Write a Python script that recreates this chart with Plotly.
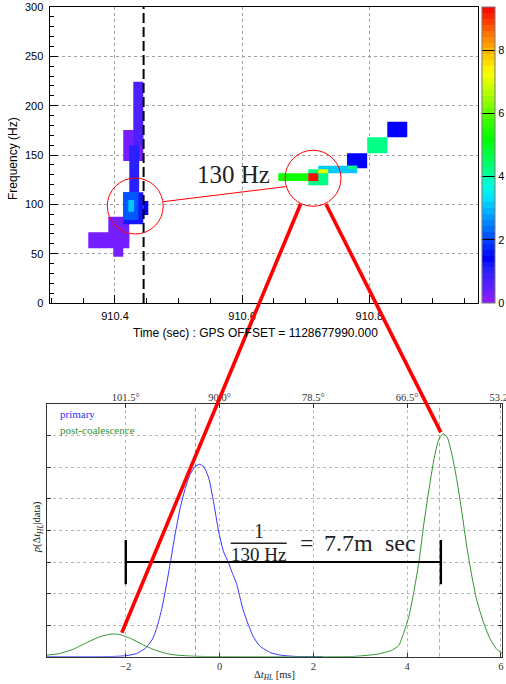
import plotly.graph_objects as go

W, H = 506, 684

# ---------------- top panel: time-frequency tiles ----------------
tile_t_start = [910.3895, 910.3580, 910.3973, 910.4130, 910.4288, 910.4225, 910.4130, 910.4130, 910.4210, 910.4445,
                910.6568, 910.7650, 910.7197, 910.7650, 910.7040, 910.7197, 910.7040, 910.7967, 910.8283]
tile_t_end = [910.4225, 910.4225, 910.4130, 910.4445, 910.4445, 910.4380, 910.4445, 910.4367, 910.4300, 910.4524,
              910.7040, 910.7967, 910.7810, 910.7810, 910.7354, 910.7354, 910.7197, 910.8283, 910.8597]
tile_f_low = [62.1, 55.4, 46.9, 143.9, 160.0, 112.2, 79.8, 84.0, 92.5, 89.2,
              123.6, 136.5, 131.4, 135.8, 119.3, 131.4, 123.6, 151.7, 167.9]
tile_f_high = [87.5, 71.6, 62.1, 175.3, 224.3, 160.0, 112.2, 112.2, 104.4, 103.4,
               131.4, 151.7, 139.2, 139.2, 135.5, 135.5, 131.4, 167.9, 183.7]
tile_energy = [0.19, 0.19, 0.19, 0.19, 0.65, 0.95, 1.15, 2.1, 3.1, 1.4,
               5.3, 1.4, 3.1, 4.25, 4.25, 7.05, 9.3, 4.25, 1.4]

energy_max = 9.36
colorbar_ticks = [0, 2, 4, 6, 8]
event_time = 910.445
time_range = [910.297, 910.9705]
freq_range = [0, 300]

circle_t = [910.4319, 910.7115]
circle_f = [98.3, 126.4]
circle_rt = 0.0440
circle_rf = 28.4
link_t = [910.476, 910.668]
link_f = [102.7, 117.9]

# palette (ROOT-like rainbow)
pal_pos = [0.0, 0.05, 0.12, 0.15, 0.21, 0.28, 0.35, 0.40, 0.43, 0.48, 0.555, 0.62, 0.68, 0.75, 0.78, 0.84, 0.90, 0.96, 1.0]
pal_col = ['#9a1aff', '#6020ff', '#2020ff', '#0000ff', '#0040ff', '#0090ff', '#00e0ff', '#00ffe0', '#00ffa0',
           '#00ff60', '#00ff00', '#40ff00', '#90ff00', '#e0ff00', '#ffff00', '#ffc000', '#ff8000', '#ff3000', '#ff0000']

# ---------------- bottom panel: posteriors ----------------
primary_dt = [-3.68, -2.6, -2.33, -2.0, -1.77, -1.59, -1.44, -1.34, -1.23, -1.12, -1.05, -0.95, -0.84, -0.73,
              -0.63, -0.52, -0.43, -0.34, -0.23, -0.13, -0.02, 0.085, 0.19, 0.26, 0.36, 0.44, 0.5, 0.6, 0.714,
              0.857, 1.086, 1.3, 1.6, 2.2]
primary_p = [0.0, 0.0, 0.005, 0.03, 0.1, 0.26, 0.53, 0.9, 1.53, 2.38, 2.98, 3.86, 4.71, 5.34,
             5.77, 6.03, 6.1, 6.03, 5.66, 4.92, 3.97, 3.33, 2.98, 2.7, 2.33, 1.85, 1.5, 1.07, 0.65,
             0.34, 0.13, 0.05, 0.01, 0.0]
post_dt = [-3.68, -3.41, -3.13, -2.84, -2.56, -2.34, -2.22, -2.12, -1.9, -1.62, -1.41, -1.27, -1.13, -0.91, -0.6,
           -0.27, 0.5, 2.16, 2.87, 3.36, 3.65, 3.82, 3.93, 4.04, 4.14, 4.25, 4.35, 4.46, 4.57, 4.67, 4.76, 4.85,
           4.95, 5.06, 5.17, 5.27, 5.38, 5.48, 5.63, 5.77, 5.91, 6.03]
post_p = [0.05, 0.1, 0.23, 0.44, 0.63, 0.71, 0.72, 0.70, 0.58, 0.37, 0.23, 0.16, 0.1, 0.05, 0.02,
          0.005, 0.0, 0.0, 0.01, 0.08, 0.19, 0.35, 0.77, 1.29, 2.03, 2.98, 4.14, 5.24, 6.24, 6.87, 7.06, 6.98,
          6.45, 5.61, 4.56, 3.51, 2.56, 1.82, 1.08, 0.56, 0.24, 0.1]
primary_mark = -0.514
post_mark = 4.69
bar_dt = [-2.0, 4.72]
bar_p = 3.0
bar_cap = [2.3, 3.70]
dt_ticks = [-2, 0, 2, 4, 6]
dt_ticktext = ['\u22122', '0', '2', '4', '6']
angle_text = ['101.5\u00b0', '90.0\u00b0', '78.5\u00b0', '66.5\u00b0', '53.2\u00b0']
dt_range = [-3.68, 6.03]
p_range = [0, 8]

conn_top_t = [910.692, 910.7318]
conn_top_f = [100.3, 100.3]
conn_bot_dt = [-2.085, 4.72]
conn_bot_p = [0.76, 7.11]

# layout geometry (pixels)
top_x_dom = [49.5 / W, 477.7 / W]
top_y_dom = [1 - 303 / H, 1 - 7 / H]
bot_x_dom = [47.0 / W, 502.3 / W]
bot_y_dom = [1 - 656.7 / H, 1 - 404.3 / H]


def hex2rgb(h):
    h = h.lstrip('#')
    return tuple(int(h[i:i + 2], 16) for i in (0, 2, 4))


def interp(u):
    u = min(max(u, 0.0), 1.0)
    for i in range(len(pal_pos) - 1):
        if pal_pos[i] <= u <= pal_pos[i + 1]:
            a, b = hex2rgb(pal_col[i]), hex2rgb(pal_col[i + 1])
            w = (u - pal_pos[i]) / (pal_pos[i + 1] - pal_pos[i])
            return tuple(round(a[k] + (b[k] - a[k]) * w) for k in range(3))
    return hex2rgb(pal_col[-1])


NCOL = 50
palette = ['rgb(%d,%d,%d)' % interp((i + 0.5) / NCOL) for i in range(NCOL)]
colorscale = []
for i, c in enumerate(palette):
    colorscale.append([i / NCOL, c])
    colorscale.append([(i + 1) / NCOL, c])


def tile_color(v):
    idx = int(v / energy_max * NCOL)
    return palette[min(max(idx, 0), NCOL - 1)]


def to_paper(v, dom, rng):
    return dom[0] + (v - rng[0]) / (rng[1] - rng[0]) * (dom[1] - dom[0])


fig = go.Figure()

for i in range(len(tile_t_start)):
    t0, t1 = tile_t_start[i], tile_t_end[i]
    f0, f1 = tile_f_low[i], tile_f_high[i]
    fig.add_trace(go.Scatter(x=[t0, t1, t1, t0, t0], y=[f0, f0, f1, f1, f0], mode='lines',
                             fill='toself', fillcolor=tile_color(tile_energy[i]), line=dict(width=0),
                             hoverinfo='skip', showlegend=False, xaxis='x', yaxis='y'))

fig.add_trace(go.Scatter(x=[event_time, event_time], y=freq_range, mode='lines',
                         line=dict(color='black', width=2, dash='10px,4px'),
                         hoverinfo='skip', showlegend=False, xaxis='x', yaxis='y'))

# colour bar carrier
fig.add_trace(go.Scatter(x=[time_range[0], time_range[0]], y=[-50, -50], mode='markers',
                         marker=dict(color=[0, energy_max], cmin=0, cmax=energy_max, colorscale=colorscale,
                                     size=1, opacity=0, showscale=True,
                                     colorbar=dict(x=482 / W, xanchor='left', y=1 - 7 / H, yanchor='top',
                                                   len=296 / H, lenmode='fraction', thickness=13,
                                                   thicknessmode='pixels', xpad=0, ypad=0,
                                                   outlinewidth=1, outlinecolor='#777',
                                                   tickvals=colorbar_ticks, ticks='inside', ticklen=13,
                                                   tickcolor='black', tickwidth=1,
                                                   tickfont=dict(family='Liberation Sans', size=11,
                                                                 color='black'))),
                         hoverinfo='skip', showlegend=False, xaxis='x', yaxis='y'))

# bottom panel traces
fig.add_trace(go.Scatter(x=[primary_mark, primary_mark], y=p_range, mode='lines',
                         line=dict(color='#8c8cff', width=1, dash='4px,3px'),
                         hoverinfo='skip', showlegend=False, xaxis='x2', yaxis='y2'))
fig.add_trace(go.Scatter(x=[post_mark, post_mark], y=p_range, mode='lines',
                         line=dict(color='#8cc88c', width=1, dash='4px,3px'),
                         hoverinfo='skip', showlegend=False, xaxis='x2', yaxis='y2'))
fig.add_trace(go.Scatter(x=primary_dt, y=primary_p, mode='lines', line=dict(color='#3333ff', width=1,
                                                                           shape='spline', smoothing=0.5),
                         name='primary', hoverinfo='skip', showlegend=False, xaxis='x2', yaxis='y2'))
fig.add_trace(go.Scatter(x=post_dt, y=post_p, mode='lines', line=dict(color='#2f922f', width=1,
                                                                     shape='spline', smoothing=0.5),
                         name='post-coalescence', hoverinfo='skip', showlegend=False, xaxis='x2', yaxis='y2'))
fig.add_trace(go.Scatter(x=bar_dt, y=[bar_p, bar_p], mode='lines', line=dict(color='black', width=2),
                         hoverinfo='skip', showlegend=False, xaxis='x2', yaxis='y2'))
for xb in bar_dt:
    fig.add_trace(go.Scatter(x=[xb, xb], y=bar_cap, mode='lines', line=dict(color='black', width=2.4),
                             hoverinfo='skip', showlegend=False, xaxis='x2', yaxis='y2'))
# carrier for top angle axis
fig.add_trace(go.Scatter(x=[dt_ticks[0]], y=[-1], mode='markers', marker=dict(opacity=0, size=1),
                         hoverinfo='skip', showlegend=False, xaxis='x3', yaxis='y2'))

shapes = []
for tc, fc in zip(circle_t, circle_f):
    shapes.append(dict(type='circle', xref='x', yref='y', x0=tc - circle_rt, x1=tc + circle_rt,
                       y0=fc - circle_rf, y1=fc + circle_rf, line=dict(color='red', width=1), layer='above'))
shapes.append(dict(type='line', xref='x', yref='y', x0=link_t[0], y0=link_f[0], x1=link_t[1], y1=link_f[1],
                   line=dict(color='red', width=1), layer='above'))
for k in range(2):
    shapes.append(dict(type='line', xref='paper', yref='paper',
                       x0=to_paper(conn_top_t[k], top_x_dom, time_range),
                       y0=to_paper(conn_top_f[k], top_y_dom, freq_range),
                       x1=to_paper(conn_bot_dt[k], bot_x_dom, dt_range),
                       y1=to_paper(conn_bot_p[k], bot_y_dom, p_range),
                       line=dict(color='red', width=3.6), layer='above'))
# fraction bar
shapes.append(dict(type='line', xref='paper', yref='paper', x0=230.7 / W, x1=286.7 / W,
                   y0=1 - 543.3 / H, y1=1 - 543.3 / H, line=dict(color='#222', width=1.4)))

serif = 'Liberation Serif'
sans = 'Liberation Sans'
ann = []


def add_text(txt, x, y, size, family=serif, color='#222', xanchor='center', angle=0):
    ann.append(dict(text=txt, x=x / W, y=1 - y / H, xref='paper', yref='paper', showarrow=False,
                    xanchor=xanchor, yanchor='middle', textangle=angle,
                    font=dict(family=family, size=size, color=color)))


add_text('130 Hz', 233, 175, 25)
add_text('1', 259.3, 531, 20)
add_text('130 Hz', 258.7, 554, 19)
add_text('=', 306.7, 543, 24)
add_text('7.7m', 348, 543, 24)
add_text('sec', 400, 543, 24)
add_text('primary', 58.3, 414.3, 11, color='#3333ff', xanchor='left')
add_text('post-coalescence', 58.3, 430, 11, color='#2f922f', xanchor='left')
add_text('<i>p</i>(\u0394<i>t</i><sub><i>HL</i></sub>|data)', 37.3, 527, 10.5, angle=-90)
add_text('\u0394<i>t</i><sub><i>HL</i></sub> [ms]', 274.8, 675, 10.5)
add_text('Frequency (Hz)', 13, 159, 12, family=sans, color='black', angle=-90)
add_text('Time (sec) : GPS OFFSET = 1128677990.000', 256, 333, 12, family=sans, color='black')

grid_root = dict(showgrid=True, gridcolor='#a0a0a0', griddash='dot', gridwidth=1)
grid_mpl = dict(showgrid=True, gridcolor='#b8b8b8', griddash='dot', gridwidth=1)

fig.update_layout(
    width=W, height=H, margin=dict(l=0, r=0, t=0, b=0, autoexpand=False),
    paper_bgcolor='white', plot_bgcolor='white', showlegend=False,
    shapes=shapes, annotations=ann,
    xaxis=dict(domain=top_x_dom, anchor='y', range=time_range, tick0=910.4, dtick=0.2, tickformat='.1f',
               ticks='inside', ticklen=8, tickcolor='black', showline=True, linecolor='black', linewidth=1,
               mirror=True, zeroline=False, ticklabelstandoff=3, automargin=False,
               minor=dict(dtick=0.05, tick0=910.4, ticks='inside', ticklen=5, tickcolor='black', showgrid=False),
               tickfont=dict(family=sans, size=11, color='black'), **grid_root),
    yaxis=dict(domain=top_y_dom, anchor='x', range=freq_range, dtick=50, ticks='inside', ticklen=8,
               tickcolor='black', showline=True, linecolor='black', linewidth=1, mirror=True, zeroline=False,
               minor=dict(dtick=10, ticks='inside', ticklen=4, tickcolor='black', showgrid=False),
               ticklabelstandoff=3, automargin=False,
               tickfont=dict(family=sans, size=11, color='black'), **grid_root),
    xaxis2=dict(domain=bot_x_dom, anchor='y2', range=dt_range, tickvals=dt_ticks, ticktext=dt_ticktext,
                ticks='inside', ticklen=4, tickcolor='#333', showline=True, linecolor='#333', linewidth=1,
                mirror='ticks', zeroline=False, automargin=False, ticklabeloverflow='allow',
                tickfont=dict(family=serif, size=10.5, color='#333'), **grid_mpl),
    yaxis2=dict(domain=bot_y_dom, anchor='x2', range=p_range, dtick=1, showticklabels=False,
                ticks='inside', ticklen=4, tickcolor='#333', showline=True, linecolor='#333', linewidth=1,
                mirror='ticks', zeroline=False, automargin=False, **grid_mpl),
    xaxis3=dict(overlaying='x2', anchor='y2', side='top', range=dt_range, tickvals=dt_ticks,
                ticktext=angle_text, ticks='', showgrid=False, showline=False, zeroline=False,
                automargin=False, ticklabeloverflow='allow',
                tickfont=dict(family=serif, size=10.5, color='#333')),
)

fig.write_html('out.html', config={'displayModeBar': False},
               post_script="document.body.style.margin='0';document.body.style.overflow='hidden';")
